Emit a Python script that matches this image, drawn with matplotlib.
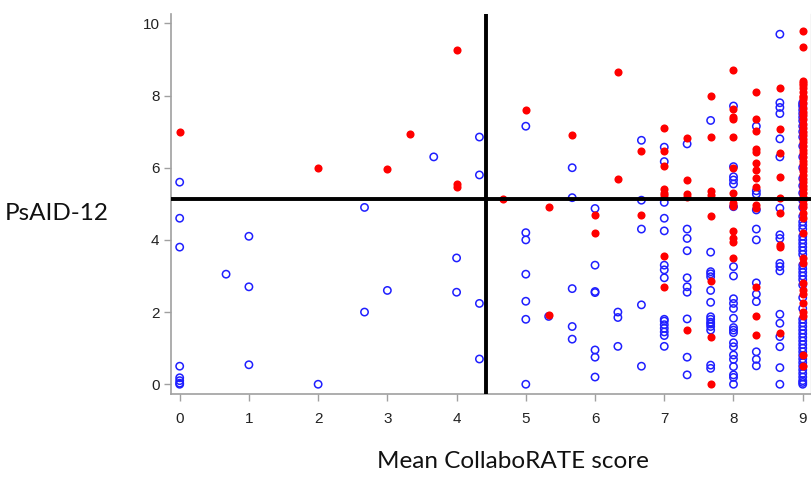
import matplotlib
matplotlib.use("Agg")
import matplotlib.pyplot as plt

# PsAID-12 scores grouped by mean CollaboRATE score (x position)
open_points = {
    0.00: [5.6, 4.6, 3.8, 0.5, 0.18, 0.1, 0.03, 0.0],
    0.67: [3.05],
    1.00: [4.1, 2.7, 0.54],
    2.00: [0.0],
    2.67: [4.9, 2.0],
    3.00: [2.6],
    3.67: [6.3],
    4.00: [3.5, 2.55],
    4.33: [6.85, 5.8, 2.24, 0.7],
    5.00: [7.15, 4.2, 4.0, 3.05, 2.3, 1.8, 0.0],
    5.33: [1.88],
    5.67: [6.0, 5.17, 2.65, 1.6, 1.25],
    6.00: [4.87, 3.3, 2.57, 2.54, 0.95, 0.75, 0.2],
    6.33: [2.0, 1.85, 1.05],
    6.67: [6.76, 5.1, 4.3, 2.2, 0.5],
    7.00: [6.57, 6.17, 5.04, 4.6, 4.25, 3.3, 3.17, 2.95, 1.8, 1.75, 1.65,
           1.55, 1.45, 1.35, 1.05],
    7.33: [6.66, 4.3, 4.04, 3.7, 2.95, 2.7, 2.55, 1.81, 0.75, 0.26],
    7.67: [7.31, 3.66, 3.12, 3.06, 2.98, 2.6, 2.27, 1.87, 1.8, 1.72, 1.67,
           1.6, 1.5, 0.53, 0.44],
    8.00: [7.71, 6.03, 5.75, 5.66, 5.55, 4.92, 3.26, 3.0, 2.37, 2.24, 2.1,
           1.83, 1.57, 1.5, 1.43, 1.15, 1.04, 0.81, 0.69, 0.49, 0.26, 0.19,
           0.0],
    8.33: [7.15, 5.36, 5.27, 4.83, 4.3, 4.0, 2.81, 2.5, 2.29, 0.9, 0.69,
           0.51],
    8.67: [9.7, 7.8, 7.67, 7.5, 6.8, 6.3, 4.88, 4.14, 4.04, 3.35, 3.26, 3.14,
           1.94, 1.69, 1.32, 1.04, 0.46, 0.0],
    9.00: [7.8, 7.75, 7.7, 7.6, 7.5, 7.4, 7.3, 7.15, 7.0, 6.85, 6.6, 6.3,
           6.0, 5.7, 5.5, 5.3, 5.1, 4.9, 4.65, 4.5, 4.4, 4.3, 4.1, 4.0, 3.9,
           3.8, 3.7, 3.6, 3.3, 3.2, 3.1, 3.0, 2.9, 2.75, 2.4, 2.1, 1.8, 1.7,
           1.6, 1.5, 1.4, 1.3, 1.2, 1.1, 1.0, 0.9, 0.8, 0.7, 0.6, 0.5, 0.4,
           0.3, 0.2, 0.1, 0.05, 0.0],
}

filled_points = {
    0.00: [7.0],
    2.00: [6.0],
    3.00: [5.96],
    3.33: [6.94],
    4.00: [9.25, 5.56, 5.47],
    4.67: [5.13],
    5.00: [7.6],
    5.33: [4.9, 1.93],
    5.67: [6.9],
    6.00: [4.7, 4.2],
    6.33: [8.65, 5.7],
    6.67: [6.46, 4.7],
    7.00: [7.11, 6.46, 6.05, 5.41, 5.31, 5.24, 3.55, 2.7],
    7.33: [6.81, 5.66, 5.26, 5.2, 1.5],
    7.67: [8.0, 6.86, 5.36, 5.25, 4.66, 2.86, 1.31, 0.0],
    8.00: [8.71, 7.62, 7.41, 7.34, 6.86, 5.98, 5.29, 5.03, 4.95, 4.26, 4.04,
           3.95, 3.51],
    8.33: [8.1, 7.35, 7.02, 6.51, 6.44, 6.14, 5.94, 5.71, 5.47, 4.97, 4.88,
           2.7, 1.9, 1.36],
    8.67: [8.2, 7.06, 6.42, 5.75, 5.17, 4.74, 3.86, 3.8, 1.41],
    9.00: [9.8, 9.35, 8.4, 8.35, 8.3, 8.2, 8.1, 8.0, 7.95, 7.9, 7.8, 7.65,
           7.55, 7.45, 7.35, 7.2, 7.1, 7.0, 6.9, 6.8, 6.7, 6.6, 6.5, 6.4, 6.3,
           6.2, 6.1, 6.0, 5.9, 5.8, 5.7, 5.6, 5.5, 5.4, 5.3, 5.2, 5.1, 5.0,
           4.9, 4.75, 4.6, 4.2, 3.5, 3.35, 2.8, 2.6, 2.5, 2.25, 2.0, 1.9, 0.8,
           0.5],
}

x_ticks = [0, 1, 2, 3, 4, 5, 6, 7, 8, 9]
y_ticks = [0, 2, 4, 6, 8, 10]
cut_score = 4.42
cut_psaid = 5.13


def flatten(groups):
    xs, ys = [], []
    for score, vals in groups.items():
        xs.extend([score] * len(vals))
        ys.extend(vals)
    return xs, ys


bx, by = flatten(open_points)
rx, ry = flatten(filled_points)

fig = plt.figure(figsize=(8.12, 5.03), dpi=100)
ax = fig.add_axes([0.2102, 0.2167, 0.7886, 0.7555])

ax.scatter(bx, by, s=28, facecolors="none", edgecolors="#1f1fff",
           linewidths=1.1, zorder=2)
ax.scatter(rx, ry, s=34, color="#ff0000", linewidths=0, zorder=3)

ax.axhline(cut_psaid, color="black", lw=2.8, zorder=4)
ax.axvline(cut_score, color="black", lw=2.8, zorder=4)

ax.set_xlim(-0.13, 9.12)
ax.set_ylim(-0.27, 10.26)
ax.set_xticks(x_ticks)
ax.set_yticks(y_ticks)

for side in ("left", "bottom"):
    ax.spines[side].set_color("#a0a0a0")
    ax.spines[side].set_linewidth(1.2)
ax.spines["top"].set_visible(False)
ax.spines["right"].set_color("#d0d0d0")
ax.spines["right"].set_linewidth(1.0)

ax.tick_params(axis="both", direction="out", length=5, width=1.0,
               color="#a0a0a0", labelcolor="#222222", labelsize=11)
ax.tick_params(axis="x", pad=8)
ax.tick_params(axis="y", pad=3)
for lbl in ax.get_xticklabels() + ax.get_yticklabels():
    lbl.set_fontfamily("Liberation Sans")

fig.text(57 / 812, 1 - 213 / 503, "PsAID-12", ha="center", va="center",
         fontsize=17.5, family="Lato", color="#111111")
fig.text(513 / 812, 1 - 461 / 503, "Mean CollaboRATE score", ha="center",
         va="center", fontsize=17.5, family="Lato", color="#111111")

fig.savefig("out.png", dpi=100)
